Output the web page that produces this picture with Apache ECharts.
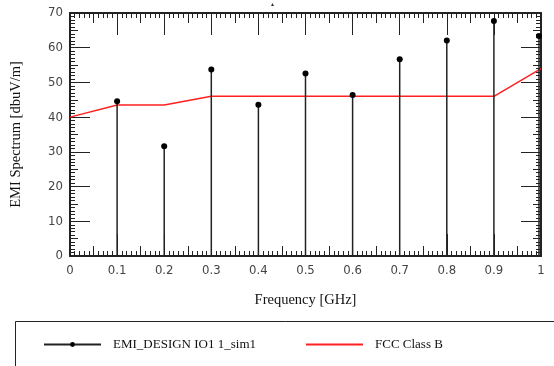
<!DOCTYPE html>
<html>
<head>
<meta charset="utf-8">
<script src="https://cdn.jsdelivr.net/npm/echarts@6/dist/echarts.min.js"></script>
<style>
  html, body { margin: 0; padding: 0; background: #fff; }
  #main { width: 554px; height: 366px; }
</style>
</head>
<body>
<div id="main"></div>
<script>
// measured EMI spectrum (GHz, dbuV/m)
const emiFreq = [0.1, 0.2, 0.3, 0.4, 0.5, 0.6, 0.7, 0.8, 0.9, 1.0];
const emiLevel = [44.6, 31.6, 53.7, 43.6, 52.6, 46.4, 56.7, 62.1, 67.7, 63.4];

// FCC Class B limit line
const fccFreq = [0, 0.1, 0.2, 0.3, 0.9, 1.0];
const fccLimit = [40, 43.5, 43.5, 46, 46, 54];

const xTicks = ["0", "0.1", "0.2", "0.3", "0.4", "0.5", "0.6", "0.7", "0.8", "0.9", "1"];

const emiName = "EMI_DESIGN IO1 1_sim1";
const fccName = "FCC Class B";

const chart = echarts.init(document.getElementById("main"), null, { renderer: "canvas" });

const tickFont = "'Liberation Sans Narrow', 'DejaVu Sans Condensed', 'Liberation Sans', sans-serif";
const serif = "'Liberation Serif', 'DejaVu Serif', serif";
const frame = "#222";
const plotRect = { left: 70, right: 13, top: 13, bottom: 110, containLabel: false };

// axis that only carries tick marks (lives on the second grid)
const tickAxis = (pos, max, interval, len) => ({
  type: "value",
  gridIndex: 1,
  position: pos,
  min: 0,
  max: max,
  interval: interval,
  axisLine: { show: false, onZero: false },
  axisTick: { show: true, inside: true, length: len, lineStyle: { color: frame, width: 1 } },
  axisLabel: { show: false },
  splitLine: { show: false },
});

const xMajor = (pos, withLabels) => ({
  type: "value",
  gridIndex: 0,
  position: pos,
  min: 0,
  max: 1,
  interval: 0.1,
  axisLine: { show: true, onZero: false, lineStyle: { color: frame, width: 2 } },
  axisTick: { show: true, inside: true, length: 22, lineStyle: { color: frame, width: 1 } },
  minorTick: { show: true, splitNumber: 10, length: 5, lineStyle: { color: frame, width: 1 } },
  axisLabel: {
    show: withLabels,
    color: "#444",
    fontFamily: tickFont,
    fontSize: 13,
    margin: 8,
    formatter: (v) => xTicks[Math.round(v * 10)],
  },
  splitLine: { show: false },
  name: withLabels ? "Frequency [GHz]" : "",
  nameLocation: "middle",
  nameGap: 37,
  nameTextStyle: { color: "#111", fontFamily: serif, fontSize: 14.5 },
});

const yMajor = (pos, withLabels) => ({
  type: "value",
  gridIndex: 0,
  position: pos,
  min: 0,
  max: 70,
  interval: 10,
  axisLine: { show: true, onZero: false, lineStyle: { color: frame, width: 2 } },
  axisTick: { show: true, inside: true, length: 20, lineStyle: { color: frame, width: 1 } },
  minorTick: { show: true, splitNumber: 10, length: 5, lineStyle: { color: frame, width: 1 } },
  axisLabel: { show: withLabels, color: "#444", fontFamily: tickFont, fontSize: 13, margin: 7 },
  splitLine: { show: false },
  name: withLabels ? "EMI Spectrum [dbuV/m]" : "",
  nameLocation: "middle",
  nameGap: 46,
  nameTextStyle: { color: "#111", fontFamily: serif, fontSize: 14.5 },
});

const legendText = { color: "#111", fontFamily: serif, fontSize: 13, padding: [0, 0, 0, 7] };

const options = {
  backgroundColor: "#fff",
  animation: false,
  grid: [Object.assign({}, plotRect), Object.assign({}, plotRect)],
  xAxis: [
    xMajor("bottom", true),
    xMajor("top", false),
    tickAxis("bottom", 1, 0.05, 10),
    tickAxis("top", 1, 0.05, 10),
  ],
  yAxis: [
    yMajor("left", true),
    yMajor("right", false),
    tickAxis("left", 70, 5, 8),
    tickAxis("right", 70, 5, 8),
  ],
  legend: [
    {
      data: [emiName],
      left: 38,
      top: 333,
      itemWidth: 57,
      itemHeight: 6,
      textStyle: legendText,
    },
    {
      data: [{ name: fccName, itemStyle: { opacity: 0 } }],
      left: 300,
      top: 333,
      itemWidth: 57,
      itemHeight: 6,
      textStyle: legendText,
    },
  ],
  graphic: [
    {
      type: "rect",
      shape: { x: 15.5, y: 321.5, width: 600, height: 100 },
      style: { fill: "none", stroke: "#222", lineWidth: 1 },
    },
    {
      type: "text",
      left: 271,
      top: 1,
      style: { text: "\u25b4", fontSize: 6, fill: "#333" },
    },
  ],
  series: [
    {
      type: "line",
      name: fccName,
      xAxisIndex: 0,
      yAxisIndex: 0,
      data: fccFreq.map((f, i) => [f, fccLimit[i]]),
      showSymbol: false,
      symbol: "none",
      color: "#ff2020",
      lineStyle: { color: "#ff2020", width: 1.5 },
      z: 3,
    },
    {
      type: "custom",
      name: "stems",
      xAxisIndex: 0,
      yAxisIndex: 0,
      clip: false,
      data: emiFreq.map((f, i) => [f, emiLevel[i]]),
      renderItem(params, api) {
        const base = api.coord([api.value(0), 0]);
        const top = api.coord([api.value(0), api.value(1)]);
        const x = Math.min(top[0], 539);
        return {
          type: "group",
          children: [
            {
              type: "line",
              shape: { x1: x, y1: base[1], x2: x, y2: top[1] },
              style: { stroke: "#222", lineWidth: 1.5 },
            },
            {
              type: "circle",
              shape: { cx: x, cy: top[1], r: 3 },
              style: { fill: "#000" },
            },
          ],
        };
      },
      z: 4,
    },
    {
      // legend entry only
      type: "line",
      name: emiName,
      xAxisIndex: 0,
      yAxisIndex: 0,
      data: [],
      symbol: "circle",
      symbolSize: 6,
      color: "#000",
      lineStyle: { color: "#222", width: 1 },
    },
  ],
};

chart.setOption(options);
</script>
</body>
</html>
